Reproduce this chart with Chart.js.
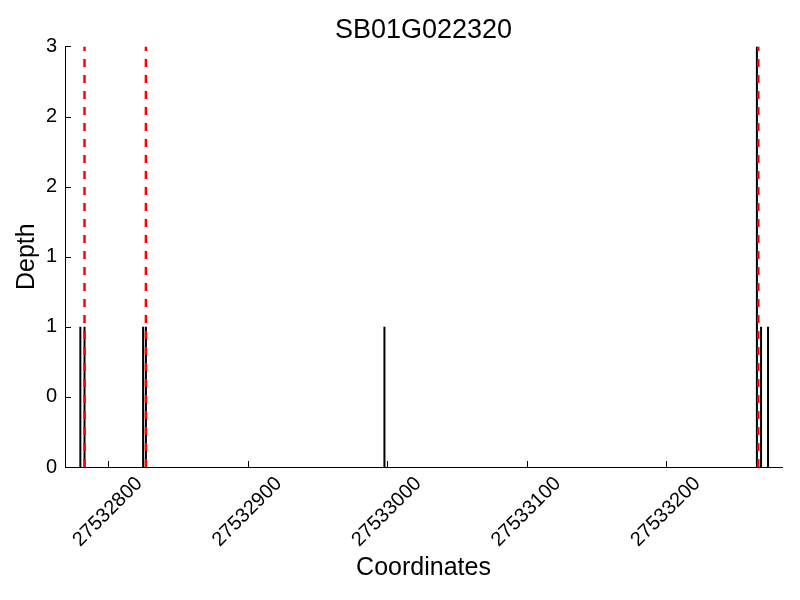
<!DOCTYPE html>
<html>
<head>
<meta charset="utf-8">
<script src="https://cdn.jsdelivr.net/npm/chart.js@4/dist/chart.umd.min.js"></script>
<style>
  html, body { margin: 0; padding: 0; background: #fff; }
  #wrap { width: 800px; height: 600px; position: relative; }
</style>
</head>
<body>
<div id="wrap"><canvas id="c" width="800" height="600"></canvas></div>
<script>
// ---- data ----
const chartTitle = 'SB01G022320';
const stemX = [27532780, 27532783, 27532825, 27532827, 27532998, 27533265, 27533268, 27533273];
const stemDepth = [1, 1, 1, 1, 1, 3, 1, 1];
const markerX = [27532783, 27532827, 27533266];
const markerDepth = 3;
const xTickValues = [27532800, 27532900, 27533000, 27533100, 27533200];
const yTickValues = [0, 0.5, 1, 1.5, 2, 2.5, 3];
const yTickLabels = ['0', '0', '1', '1', '2', '2', '3'];
const xMin = 27532769, xMax = 27533283;

// build line segments (null separates the segments)
const stemPoints = [];
stemX.forEach((x, i) => {
  stemPoints.push({x: x, y: 0}, {x: x, y: stemDepth[i]}, {x: x, y: null});
});
const markerPoints = [];
markerX.forEach(x => {
  markerPoints.push({x: x, y: 0}, {x: x, y: markerDepth}, {x: x, y: null});
});

const FONT = '"Liberation Sans", Arial, Helvetica, sans-serif';

// centre the title over the plot area (as in the reference)
const titleOverPlot = {
  id: 'titleOverPlot',
  afterLayout(chart) {
    if (chart.titleBlock) {
      chart.titleBlock.left = chart.chartArea.left;
      chart.titleBlock.right = chart.chartArea.right;
    }
  }
};

const inwardTicks = {
  id: 'inwardTicks',
  afterDatasetsDraw(chart) {
    const {ctx, chartArea, scales} = chart;
    ctx.save();
    ctx.strokeStyle = '#000';
    ctx.lineWidth = 1;
    ctx.beginPath();
    yTickValues.forEach(v => {
      const y = Math.round(scales.y.getPixelForValue(v)) + 0.5;
      ctx.moveTo(chartArea.left, y);
      ctx.lineTo(chartArea.left + 6, y);
    });
    xTickValues.forEach(v => {
      const x = Math.round(scales.x.getPixelForValue(v)) + 0.5;
      ctx.moveTo(x, chartArea.bottom);
      ctx.lineTo(x, chartArea.bottom - 6);
    });
    ctx.stroke();
    ctx.restore();
  }
};

new Chart(document.getElementById('c'), {
  type: 'line',
  data: {
    datasets: [
      {
        data: markerPoints,
        borderColor: '#ff0000',
        borderWidth: 2.5,
        borderDash: [8, 8],
        pointRadius: 0,
        spanGaps: false,
        fill: false
      },
      {
        data: stemPoints,
        borderColor: '#000000',
        borderWidth: 2,
        pointRadius: 0,
        spanGaps: false,
        fill: false
      }
    ]
  },
  options: {
    responsive: false,
    animation: false,
    devicePixelRatio: 1,
    layout: { padding: { left: 0, right: 18, top: 0, bottom: 0 } },
    plugins: {
      legend: { display: false },
      tooltip: { enabled: false },
      title: {
        display: true,
        text: chartTitle,
        color: '#000',
        font: { family: FONT, size: 27, weight: 'normal' },
        padding: { top: 14, bottom: 0 }
      }
    },
    scales: {
      x: {
        type: 'linear',
        min: xMin,
        max: xMax,
        afterBuildTicks(scale) { scale.ticks = xTickValues.map(v => ({value: v})); },
        afterFit(scale) { scale.height = 133; },
        grid: { display: true, drawOnChartArea: false, drawTicks: false },
        border: { display: true, color: '#000', width: 1 },
        ticks: {
          color: '#000',
          font: { family: FONT, size: 20 },
          minRotation: 45,
          maxRotation: 45,
          autoSkip: false,
          padding: 5,
          labelOffset: 31,
          callback: v => String(v)
        },
        title: {
          display: true,
          text: 'Coordinates',
          color: '#000',
          font: { family: FONT, size: 25 },
          padding: { top: 0, bottom: 17 }
        }
      },
      y: {
        type: 'linear',
        min: 0,
        max: 3,
        afterBuildTicks(scale) { scale.ticks = yTickValues.map(v => ({value: v})); },
        afterFit(scale) { scale.width = 65; },
        grid: { display: true, drawOnChartArea: false, drawTicks: false },
        border: { display: true, color: '#000', width: 1 },
        ticks: {
          color: '#000',
          font: { family: FONT, size: 20 },
          padding: 8,
          callback: (v, i) => yTickLabels[i]
        },
        title: {
          display: true,
          text: 'Depth',
          color: '#000',
          font: { family: FONT, size: 25 },
          padding: { top: 12, bottom: 0 }
        }
      }
    }
  },
  plugins: [titleOverPlot, inwardTicks]
});
</script>
</body>
</html>
